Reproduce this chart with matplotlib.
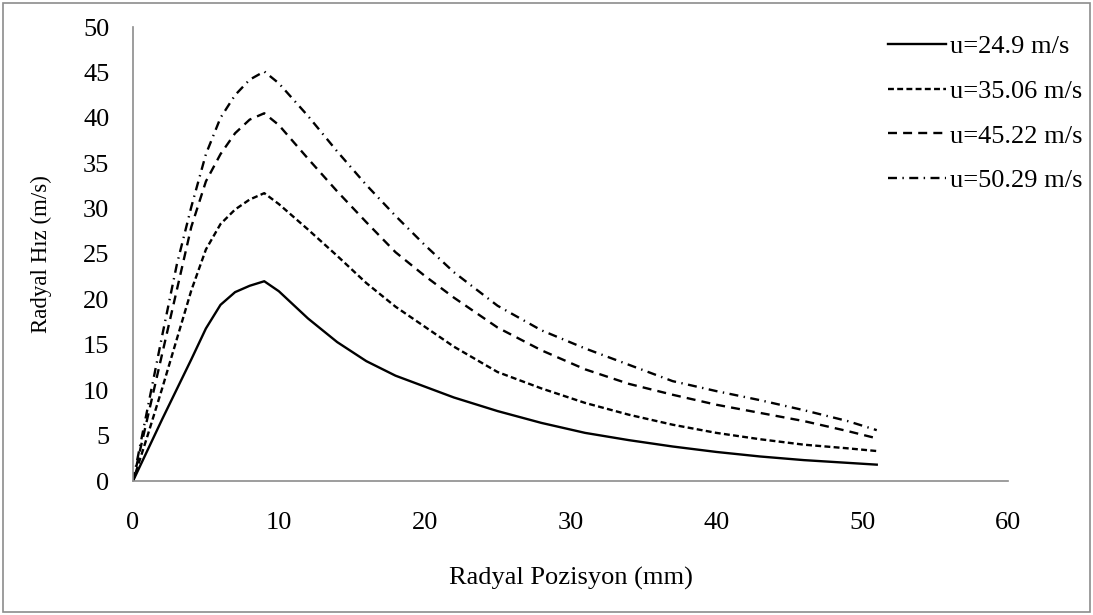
import matplotlib
matplotlib.use("Agg")
import matplotlib.pyplot as plt
from matplotlib.patches import Rectangle

# Radial position (mm)
position = [0, 1, 2, 3, 4, 5, 6, 7, 8, 9, 10, 12, 14, 16, 18, 20, 22, 25,
            28, 31, 34, 37, 40, 43, 46, 49, 51]

# Radial velocity (m/s) for each inlet velocity
v_24_9 = [0, 3.4, 6.8, 10.1, 13.4, 16.8, 19.4, 20.8, 21.5, 22.0, 20.9, 17.9,
          15.3, 13.2, 11.6, 10.4, 9.2, 7.7, 6.4, 5.3, 4.5, 3.8, 3.2, 2.7, 2.3,
          2.0, 1.8]
v_35_06 = [0, 5.0, 10.2, 15.6, 21.0, 25.5, 28.3, 29.9, 31.0, 31.7, 30.5, 27.7,
           24.8, 21.8, 19.2, 17.0, 14.8, 12.0, 10.2, 8.6, 7.3, 6.2, 5.3, 4.6,
           4.0, 3.6, 3.3]
v_45_22 = [0, 7.0, 14.0, 21.0, 28.0, 33.0, 36.0, 38.3, 39.8, 40.5, 39.2, 35.5,
           31.9, 28.5, 25.2, 22.6, 20.2, 16.9, 14.4, 12.3, 10.7, 9.5, 8.4, 7.5,
           6.6, 5.5, 4.7]
v_50_29 = [0, 8.0, 16.0, 23.8, 30.2, 36.0, 40.0, 42.5, 44.2, 45.1, 43.8, 40.2,
           36.3, 32.6, 29.2, 26.0, 23.0, 19.3, 16.6, 14.6, 12.8, 11.0, 9.9, 8.9,
           7.8, 6.6, 5.6]

labels = ["u=24.9 m/s", "u=35.06 m/s", "u=45.22 m/s", "u=50.29 m/s"]

x_ticks = [0, 10, 20, 30, 40, 50, 60]
y_ticks = [0, 5, 10, 15, 20, 25, 30, 35, 40, 45, 50]

plt.rcParams["font.family"] = ["Liberation Serif", "DejaVu Serif"]
FS = 19

W, H = 1093, 615
fig = plt.figure(figsize=(W / 100, H / 100), dpi=100)
ax = fig.add_axes([133 / W, 1 - 481 / H, 875 / W, 454 / H])

lw = 1.7
ax.plot(position, v_24_9, color="black", lw=lw, label=labels[0])
ax.plot(position, v_35_06, color="black", lw=lw, dashes=(2.5, 1.4), label=labels[1])
ax.plot(position, v_45_22, color="black", lw=lw, dashes=(3.8, 2.6), label=labels[2])
ax.plot(position, v_50_29, color="black", lw=lw,
        dashes=(3.8, 2.3, 0.6, 2.3), label=labels[3])

ax.set_xlim(0, 60)
ax.set_ylim(0, 50)
ax.set_xticks(x_ticks)
ax.set_yticks(y_ticks)
ax.tick_params(length=0, labelsize=FS)
ax.tick_params(axis="y", pad=17)
ax.tick_params(axis="x", pad=22)

for side in ("top", "right"):
    ax.spines[side].set_visible(False)
for side in ("left", "bottom"):
    ax.spines[side].set_color("#8c8c8c")
    ax.spines[side].set_linewidth(1.2)

ax.set_xlabel("Radyal Pozisyon (mm)", fontsize=FS, labelpad=24)
ax.set_ylabel("Radyal Hız (m/s)", fontsize=16.5, labelpad=22)

leg = fig.legend(loc="upper left", bbox_to_anchor=(888 / W, 1 - 35 / H),
                 bbox_transform=fig.transFigure, frameon=False,
                 fontsize=FS, handlelength=2.2, handletextpad=0.15,
                 labelspacing=0.8, borderaxespad=0, borderpad=0)

# Outer chart border
fig.patches.append(Rectangle((3 / W, 3 / H), 1087 / W, 609 / H,
                             transform=fig.transFigure, fill=False,
                             edgecolor="#8c8c8c", lw=1.2))

fig.savefig("out.png", dpi=100)
